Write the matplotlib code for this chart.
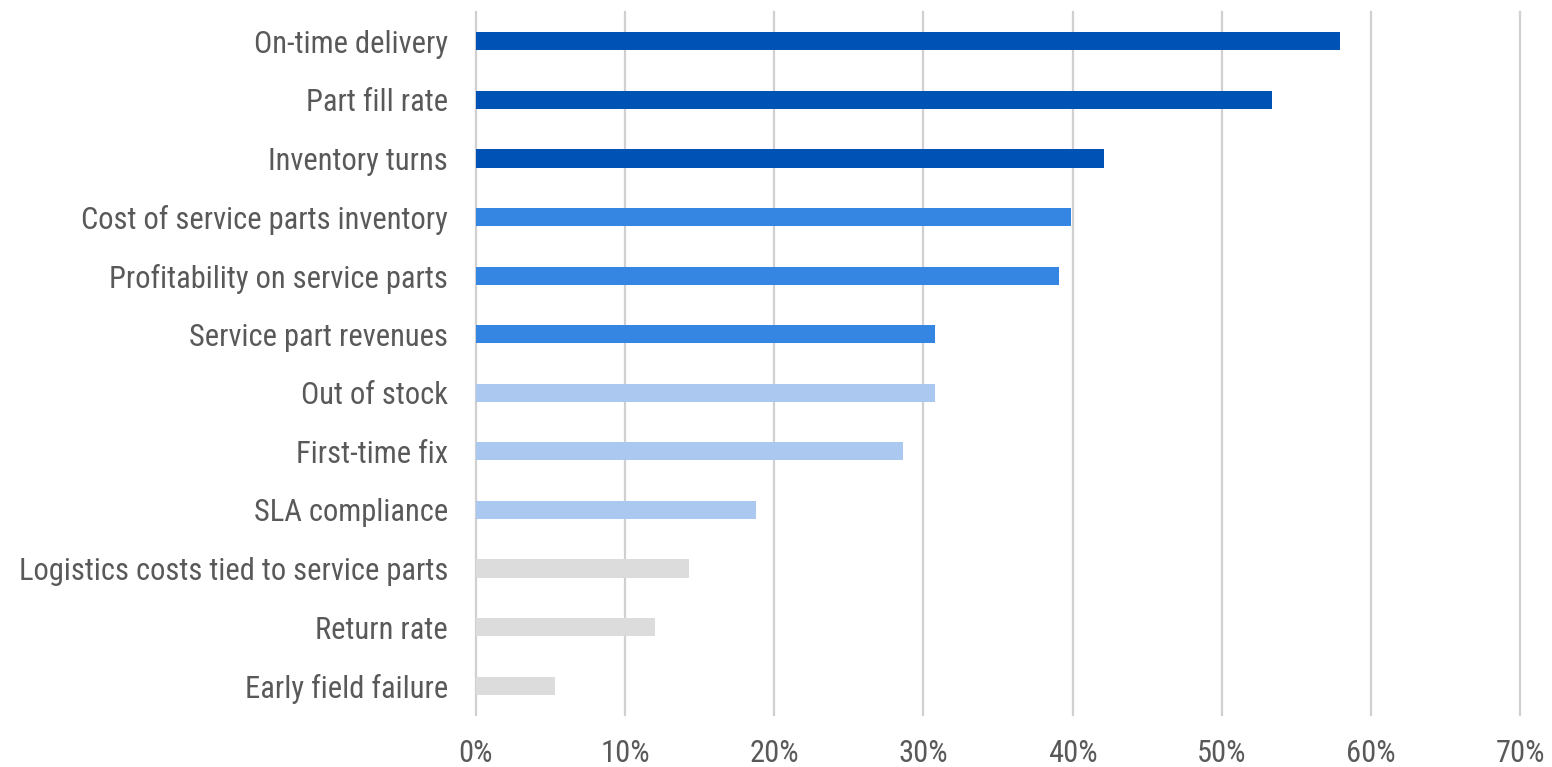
import matplotlib
matplotlib.use("Agg")
import matplotlib.pyplot as plt
from matplotlib import font_manager
from matplotlib.ticker import PercentFormatter

# =============================
# Data
# =============================
categories = [
    "On-time delivery",
    "Part fill rate",
    "Inventory turns",
    "Cost of service parts inventory",
    "Profitability on service parts",
    "Service part revenues",
    "Out of stock",
    "First-time fix",
    "SLA compliance",
    "Logistics costs tied to service parts",
    "Return rate",
    "Early field failure",
]
shares = [0.579, 0.534, 0.421, 0.399, 0.391, 0.308, 0.308, 0.286, 0.188, 0.143, 0.120, 0.053]
tiers = [0, 0, 0, 1, 1, 1, 2, 2, 2, 3, 3, 3]
tick_values = [0, 0.1, 0.2, 0.3, 0.4, 0.5, 0.6, 0.7]

tier_colors = ["#0053b5", "#3585e3", "#abc8f0", "#dcdcdc"]
text_color = "#595959"

# pick a narrow font if one is around, otherwise Roboto
installed = {f.name for f in font_manager.fontManager.ttflist}
font = "Roboto"
for name in ["Roboto Condensed", "Liberation Sans Narrow", "DejaVu Sans Condensed"]:
    if name in installed:
        font = name
        break
plt.rcParams["font.family"] = [font, "DejaVu Sans"]

# =============================
# Plot
# =============================
fig = plt.figure(figsize=(15.52, 7.67), dpi=100)
ax = fig.add_axes([0.3067, 0.0678, 0.6727, 0.9166])

ypos = list(range(len(categories)))
ax.barh(ypos, shares, height=0.31,
        color=[tier_colors[t] for t in tiers], zorder=3)

ax.set_yticks(ypos)
ax.set_yticklabels(categories)
ax.set_ylim(len(categories) - 0.5, -0.5)

ax.set_xlim(0, 0.7)
ax.set_xticks(tick_values)
ax.xaxis.set_major_formatter(PercentFormatter(1.0, decimals=0))

ax.grid(axis="x", color="#d0d0d0", linewidth=1.6, zorder=0)
for line in ax.get_xgridlines():
    line.set_clip_on(False)
for s in ax.spines.values():
    s.set_visible(False)

ax.tick_params(axis="y", length=0, pad=20, labelsize=22, labelcolor=text_color)
ax.tick_params(axis="x", length=0, pad=17, labelsize=22, labelcolor=text_color)

fig.savefig("out.png", dpi=100, facecolor="white")
